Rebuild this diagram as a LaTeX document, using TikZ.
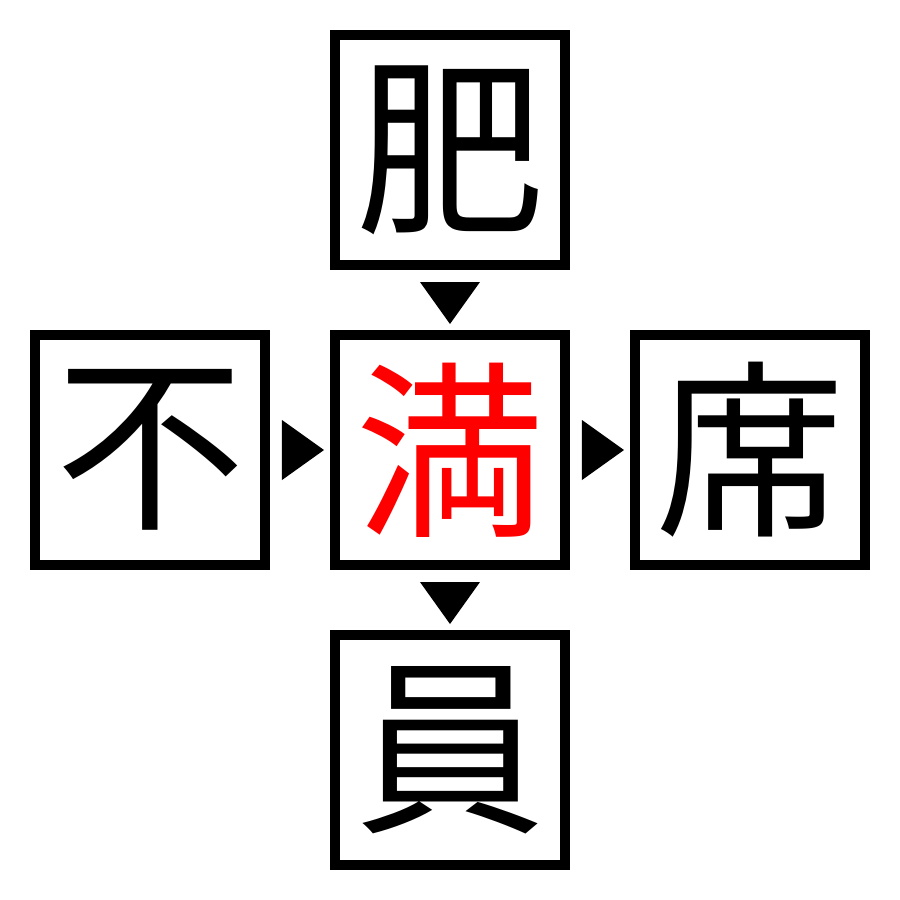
\documentclass[tikz,border=0pt]{standalone}
\usepackage{fontspec}
\newfontfamily\cjk{Noto Sans CJK JP}
\usepackage{tikz}

\tikzset{
	kanji/.style={draw, line width=0.1cm, minimum size=2.3cm, inner sep=0pt, font=\cjk\fontsize{54}{54}\selectfont},
	tip/.style={fill=black}
}

\begin{document}
\begin{tikzpicture}
		\useasboundingbox (-4.5,-4.5) rectangle (4.5,4.5);
		\node[kanji] (top) at (0,3) {肥};
		\node[kanji, text=red] (mid) at (0,0) {満};
		\node[kanji] (left) at (-3,0) {不};
		\node[kanji] (right) at (3,0) {席};
		\node[kanji] (bot) at (0,-3) {員};

		% arrow heads between the boxes
		\fill[tip] (-0.3,1.68) -- (0.3,1.68) -- (0,1.26) -- cycle;
		\fill[tip] (-0.3,-1.32) -- (0.3,-1.32) -- (0,-1.74) -- cycle;
		\fill[tip] (-1.68,0.3) -- (-1.68,-0.3) -- (-1.26,0) -- cycle;
		\fill[tip] (1.32,0.3) -- (1.32,-0.3) -- (1.74,0) -- cycle;
	\end{tikzpicture}
\end{document}
